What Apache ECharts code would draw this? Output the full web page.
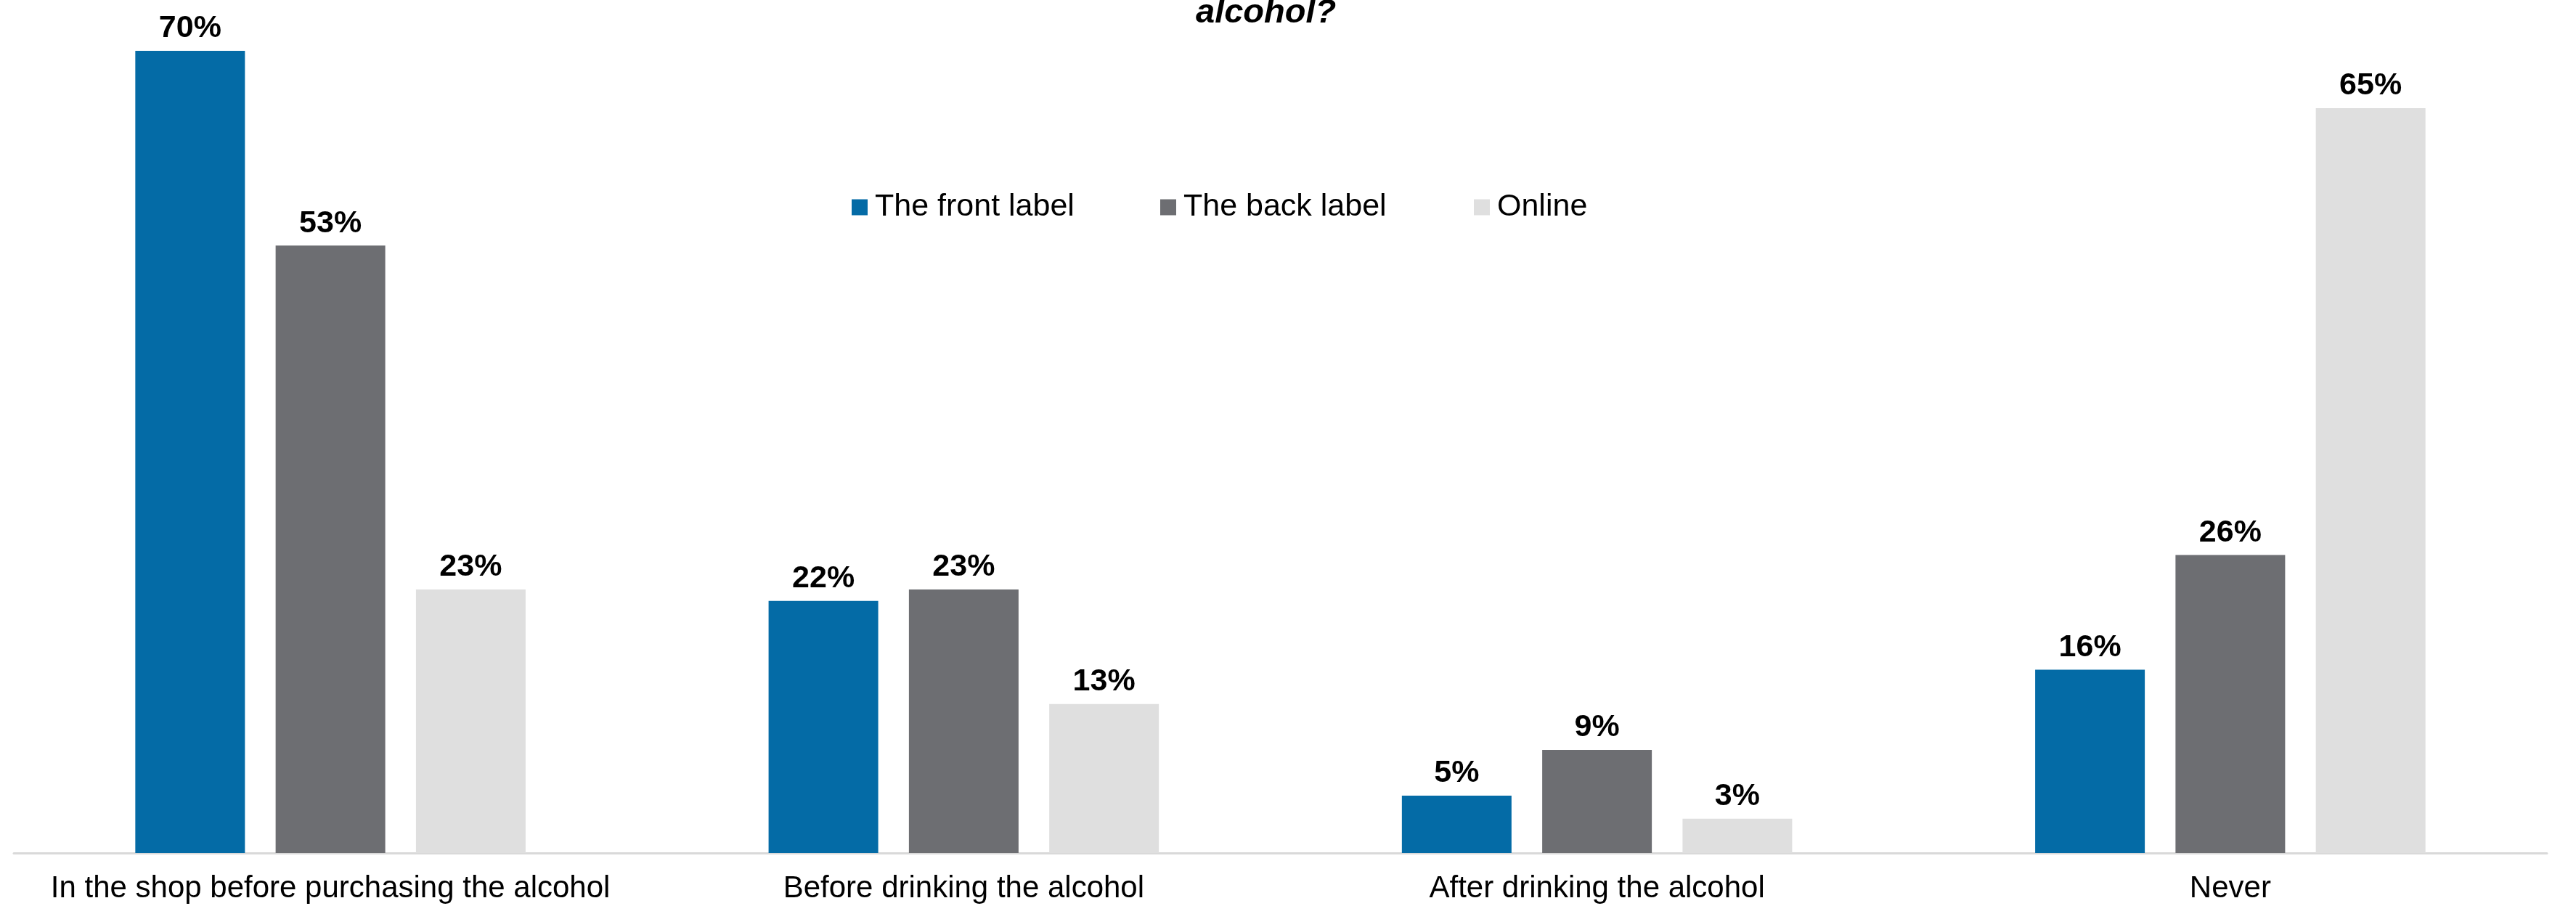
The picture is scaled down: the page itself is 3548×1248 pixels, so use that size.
<!DOCTYPE html>
<html><head><meta charset="utf-8">
<script src="https://cdn.jsdelivr.net/npm/echarts@6/dist/echarts.min.js"></script>
<style>html,body{margin:0;padding:0;background:#fff}#c{width:3548px;height:1248px}</style>
</head><body><div id="c"></div>
<script>
const categories = ["In the shop before purchasing the alcohol","Before drinking the alcohol","After drinking the alcohol","Never"];
const seriesNames = ["The front label","The back label","Online"];
const frontLabel = [70,22,5,16];
const backLabel = [53,23,9,26];
const online = [23,13,3,65];
const titleText = "alcohol?";
const colors = ["#046BA6","#6D6E72","#DFDFDF"];
const FONT = "'Liberation Sans', Arial, sans-serif";
const chart = echarts.init(document.getElementById('c'));
const mk = (name, data, color) => ({
  name, type:'bar', data, barWidth:151, barGap:'28%',
  itemStyle:{color},
  label:{show:true, position:'top', distance:9, formatter:'{c}%', color:'#000', fontWeight:'bold', fontSize:43, fontFamily:FONT}
});
const legendLefts = [1173, 1598, 2030];
const legends = seriesNames.map((n,i) => ({
  left:legendLefts[i], top:264, itemWidth:22, itemHeight:22, icon:'rect', padding:0,
  textStyle:{fontSize:43, color:'#000', fontFamily:FONT, padding:[0,0,0,5]},
  data:[n]
}));
chart.setOption({
  animation:false,
  title:{text:titleText, left:1647, top:-5, padding:0,
    textStyle:{fontSize:47, fontWeight:'bold', fontStyle:'italic', color:'#000', fontFamily:FONT}},
  legend:legends,
  grid:{left:19, right:40, top:70, bottom:73, containLabel:false},
  xAxis:{type:'category', data:categories,
    axisLine:{lineStyle:{color:'#D9D9D9', width:3}}, axisTick:{show:false},
    axisLabel:{fontSize:42, color:'#000', margin:28, fontFamily:FONT, interval:0}},
  yAxis:{type:'value', min:0, max:70, show:false, splitLine:{show:false}},
  series:[mk(seriesNames[0],frontLabel,colors[0]), mk(seriesNames[1],backLabel,colors[1]), mk(seriesNames[2],online,colors[2])]
});
</script></body></html>
